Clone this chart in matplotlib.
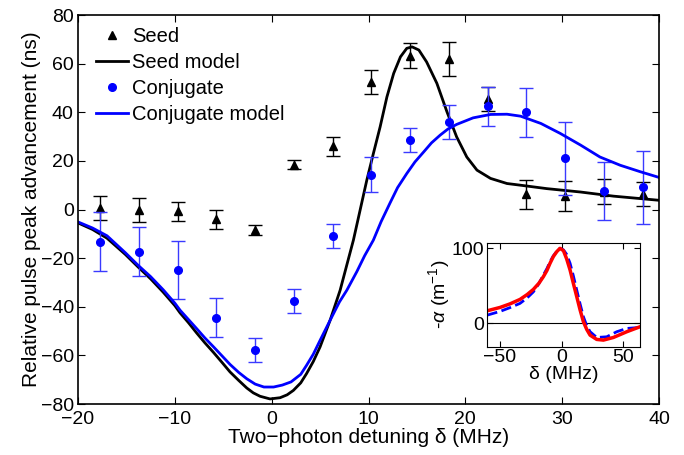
import matplotlib.pyplot as plt
import numpy as np

plt.rcParams['font.family'] = ['Liberation Sans', 'DejaVu Sans']
plt.rcParams['mathtext.fontset'] = 'custom'
plt.rcParams['mathtext.it'] = 'Liberation Sans:italic'
plt.rcParams['mathtext.rm'] = 'Liberation Sans'

# measured detunings (MHz)
delta = [-17.7, -13.7, -9.7, -5.7, -1.7, 2.3, 6.3, 10.3, 14.3, 18.3, 22.3, 26.3, 30.3, 34.3, 38.3]

seed_adv = [0.5, -0.3, -0.7, -4, -8.4, 18.5, 26, 52.5, 63.3, 61.9, 45.5, 6.2, 5.6, 7.4, 6.4]
seed_err = [5, 5, 4, 4, 2, 2, 4, 5, 5, 7, 5, 6, 6, 5, 5]

conj_adv = [-13.2, -17.3, -24.8, -44.5, -57.7, -37.7, -10.8, 14.4, 28.6, 36, 42.5, 40, 21, 7.6, 9.2]
conj_err = [12, 10, 12, 8, 5, 5, 5, 7, 5, 7, 8, 10, 15, 12, 15]

# model curves
seed_model_x = [-20, -18.5, -17, -15.1, -13.8, -12.5, -11.2, -10, -9.46, -8.6, -7.74, -6.9, -6.0,
                -5.1, -4.3, -3.4, -2.57, -1.9, -1.2, -0.17, 0.87, 1.6, 2.24, 3.0, 3.6, 4.3, 5.0,
                6.03, 7.07, 7.8, 8.44, 9.13, 9.82, 10.5, 11.2, 11.9, 12.6, 13.3, 13.95, 14.5,
                15.2, 16.0, 17.06, 18.1, 19.1, 20.15, 21.2, 22.6, 24.3, 25.7, 28.4, 31.9, 35.3, 40]
seed_model_y = [-5.5, -8.2, -11.8, -18.5, -23.6, -28.5, -34, -39.5, -42.5, -46.5, -50.8, -54.8,
                -58.8, -63, -66.8, -70.3, -73.4, -75.4, -76.8, -77.9, -77.4, -76.2, -74.4, -71.3,
                -67.5, -62.5, -56.5, -45.6, -33.2, -22.2, -12.6, -0.3, 12, 23, 34, 46.3, 56, 62.8,
                66.3, 66.9, 65.6, 60.7, 51.9, 40.2, 29.9, 21.6, 16.2, 12.8, 10.7, 10, 8.6, 7.2,
                5.5, 3.8]

conj_model_x = [-20, -18.5, -17, -15.1, -13.8, -12.5, -11.2, -10, -9.46, -8.6, -7.74, -6.9, -6.0,
                -5.1, -4.3, -3.4, -2.57, -1.7, -0.8, 0.2, 1.1, 2.0, 3.0, 3.6, 4.3, 5.0, 6.03, 7.0,
                7.76, 8.8, 9.6, 10.5, 11.3, 12.2, 13.0, 13.95, 14.8, 15.7, 16.5, 17.4, 18.2, 19.1,
                20.8, 22.6, 24.3, 25.7, 27.8, 29.8, 31.9, 33.9, 36, 38.1, 40]
conj_model_y = [-5.1, -7.6, -10.8, -17.8, -22.9, -27.6, -33, -38.5, -41.4, -45.2, -49, -52.8,
                -56.5, -60.3, -63.7, -67, -69.6, -71.8, -73, -73, -72.2, -70.9, -67.8, -64.1,
                -59.5, -53.8, -45.6, -38, -33.2, -25.5, -19, -12.6, -5, 2.5, 9, 14.8, 19.6, 23.7,
                27.4, 30.6, 33.1, 35, 37.7, 39.1, 39.2, 38.4, 35.4, 31.3, 26.5, 21.6, 18.2, 15.5,
                13.2]

# inset: absorption coefficient
inset_red_x = [-60.3, -50, -42, -33.8, -28, -23, -18.5, -14.9, -12, -9.5, -6.8, -4, -1.4, 1.4,
               4.0, 6.8, 9.5, 12.2, 14.9, 17.6, 20.3, 23, 28.4, 33.8, 41.9, 52.7, 63.5]
inset_red_y = [16.9, 21.3, 26, 32, 38.5, 45.3, 53.5, 62.2, 70.5, 80, 89, 95.6, 100, 96.9, 86,
               71, 53, 35.6, 18, 2.2, -8, -15.6, -21.3, -22.2, -18.7, -11.1, -4.4]
inset_blue_x = [-60.3, -50, -42, -33.8, -28, -23, -18.5, -14.9, -12, -9.5, -6.8, -4, -1.4, 1.4,
                4.0, 6.8, 9.5, 12.2, 14.9, 17.6, 20.3, 23, 28.4, 36.5, 44.6, 52.7, 63.5]
inset_blue_y = [11.1, 16, 21, 26.7, 34, 42, 53, 64.4, 73, 82, 90, 96, 100, 98, 92, 80, 63,
                44.4, 26, 8.9, -3, -11, -18.7, -17.8, -11.1, -6.7, -5.3]

fig = plt.figure(figsize=(6.84, 4.55), dpi=100)
ax = fig.add_axes([0.114, 0.112, 0.8495, 0.855])

ax.errorbar(delta, seed_adv, yerr=seed_err, fmt='none', ecolor='black', elinewidth=1,
            capsize=5, capthick=1)
ax.plot(delta, seed_adv, '^', color='black', markersize=6, label='Seed')
ax.plot(seed_model_x, seed_model_y, '-', color='black', linewidth=2, label='Seed model')
ax.errorbar(delta, conj_adv, yerr=conj_err, fmt='none', ecolor='#3a3aff', elinewidth=1,
            capsize=5, capthick=1)
ax.plot(delta, conj_adv, 'o', color='#0000ff', markersize=5.5, label='Conjugate')
ax.plot(conj_model_x, conj_model_y, '-', color='#0000ff', linewidth=2, label='Conjugate model')

ax.set_xlim(-20, 40)
ax.set_ylim(-80, 80)
ax.set_xticks([-20, -10, 0, 10, 20, 30, 40])
ax.set_yticks([-80, -60, -40, -20, 0, 20, 40, 60, 80])
ax.tick_params(direction='in', top=True, right=True, labelsize=14, length=5, width=0.8)
ax.tick_params(axis='x', pad=5)
ax.tick_params(axis='y', pad=3)
ax.set_xlabel('Two\u2212photon detuning δ (MHz)', fontsize=15, labelpad=0)
ax.set_ylabel('Relative pulse peak advancement (ns)', fontsize=15, labelpad=0)
for s in ax.spines.values():
    s.set_linewidth(1.2)

ax.legend(loc='upper left', frameon=False, fontsize=14.5, handlelength=1.6,
          handletextpad=0.2, labelspacing=0.35, borderaxespad=0, borderpad=0,
          bbox_to_anchor=(0.031, 0.97))

# inset
ins = fig.add_axes([0.7125, 0.238, 0.2232, 0.2286])
ins.axhline(0, color='black', linewidth=0.8)
ins.plot(inset_blue_x, inset_blue_y, '--', color='#0000ff', linewidth=2)
ins.plot(inset_red_x, inset_red_y, '-', color='#ff0000', linewidth=2.5)
ins.set_xlim(-60.3, 63.5)
ins.set_ylim(-31, 107.5)
ins.set_xticks([-50, 0, 50])
ins.set_yticks([0, 100])
ins.tick_params(direction='in', top=True, right=True, labelsize=14, length=4, pad=2)
ins.set_xlabel('δ (MHz)', fontsize=14, labelpad=0)
ins.set_ylabel(r'-$\alpha$ (m$^{-1}$)', fontsize=14, labelpad=0)

plt.savefig('out.png', dpi=100)
